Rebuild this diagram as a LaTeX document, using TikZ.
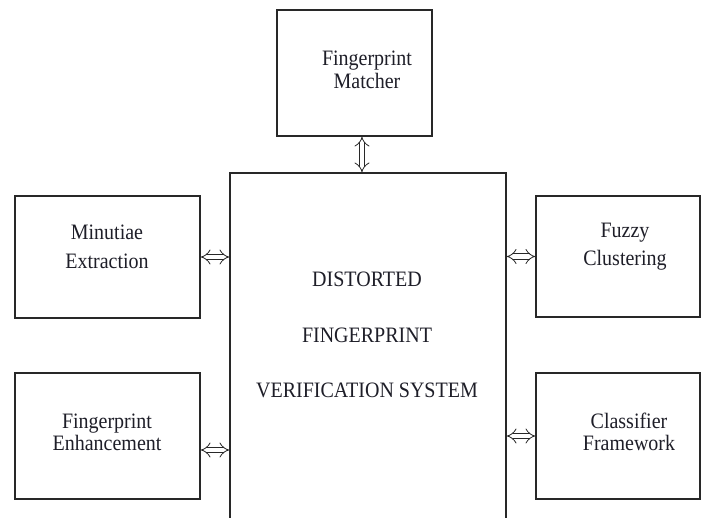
\documentclass[tikz,border=0pt]{standalone}
\usepackage{fontspec}
\setmainfont{Liberation Serif}
\usepackage{tikz}
\usetikzlibrary{
  arrows.meta,
  positioning,
  calc
}
\definecolor{LineGray}{RGB}{40,40,40}
\definecolor{TextInk}{RGB}{30,30,40}
\newcommand{\vstretch}[1]{\scalebox{1}[1.1]{#1}}
\tikzset{
  sbox/.style={
    draw=LineGray,
    fill=white,
    line width=0.9pt,
    inner sep=0pt
  },
  btext/.style={
    anchor=base,
    inner sep=0pt,
    text=TextInk,
    font=\fontsize{15}{17}\selectfont
  },
  dblarrow/.style={
    {Implies}-{Implies},
    double=white,
    double distance=3.4pt,
    line width=0.6pt,
    draw=LineGray
  }
}

\begin{document}
\begin{tikzpicture}[x=0.75pt,y=-0.75pt]
  \clip (0,0) rectangle (709,517);
  \fill[white] (0,0) rectangle (709,517);

  % blocks
  \node[sbox,minimum width=116.25pt,minimum height=94.5pt] (matcher) at (354.5,73) {};
  \node[sbox,minimum width=207pt,minimum height=300pt] (system) at (368,373) {};
  \node[sbox,minimum width=138.75pt,minimum height=91.5pt] (minutiae) at (107.5,257) {};
  \node[sbox,minimum width=123pt,minimum height=90.75pt] (fuzzy) at (618,256.5) {};
  \node[sbox,minimum width=138.75pt,minimum height=94.5pt] (enhance) at (107.5,436) {};
  \node[sbox,minimum width=123pt,minimum height=94.5pt] (classifier) at (618,436) {};

  % labels, one line each (baselines)
  \node[btext] (matcher1) at (367,65) {\vstretch{Fingerprint}};
  \node[btext] (matcher2) at (367,89) {\vstretch{Matcher}};
  \node[btext] (minutiae1) at (107,239) {\vstretch{Minutiae}};
  \node[btext] (minutiae2) at (107,268) {\vstretch{Extraction}};
  \node[btext] (fuzzy1) at (625,237) {\vstretch{Fuzzy}};
  \node[btext] (fuzzy2) at (625,265) {\vstretch{Clustering}};
  \node[btext] (enhance1) at (107,428) {\vstretch{Fingerprint}};
  \node[btext] (enhance2) at (107,450) {\vstretch{Enhancement}};
  \node[btext] (classifier1) at (629,428) {\vstretch{Classifier}};
  \node[btext] (classifier2) at (629,450) {\vstretch{Framework}};
  \node[btext] (system1) at (367,286) {\vstretch{DISTORTED}};
  \node[btext] (system2) at (367,342) {\vstretch{FINGERPRINT}};
  \node[btext] (system3) at (367,397) {\vstretch{VERIFICATION SYSTEM}};

  % links to the central block
  \draw[dblarrow] ([xshift=5.6pt]matcher.south) -- ([xshift=5.6pt]matcher.south |- system.north);
  \draw[dblarrow] (minutiae.east) -- (minutiae.east -| system.west);
  \draw[dblarrow] ([yshift=-10.5pt]enhance.east) -- ([yshift=-10.5pt]enhance.east -| system.west);
  \draw[dblarrow] (system.east |- fuzzy.west) -- (fuzzy.west);
  \draw[dblarrow] (system.east |- classifier.west) -- (classifier.west);
\end{tikzpicture}
\end{document}
